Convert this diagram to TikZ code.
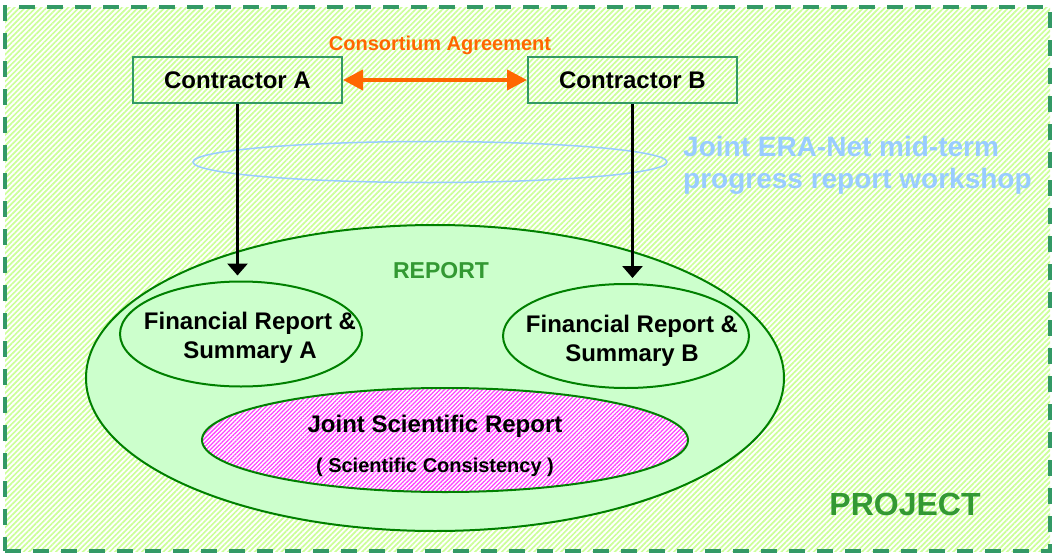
\documentclass[tikz,border=0pt]{standalone}
\usepackage{fontspec}
\setmainfont{Liberation Sans}
\usetikzlibrary{arrows.meta,shapes.geometric,patterns.meta}
\definecolor{framegreen}{HTML}{339966}
\definecolor{hatchgreen}{HTML}{CCFF99}
\definecolor{palegreen}{HTML}{CCFFCC}
\definecolor{darkgreen}{HTML}{008000}
\definecolor{textgreen}{HTML}{339933}
\definecolor{agreeorange}{HTML}{FF6600}
\definecolor{skyblue}{HTML}{99CCFF}
\definecolor{hatchpink}{HTML}{FF44FF}
\tikzset{
  contractor/.style={draw=framegreen,line width=2pt,minimum width=209pt,minimum height=46pt,inner sep=0pt,font=\fontsize{24}{28}\selectfont\bfseries},
  reportell/.style={ellipse,draw=darkgreen,line width=2pt,fill=palegreen,inner sep=0pt},
  lbl/.style={font=\fontsize{24}{29}\selectfont\bfseries,align=center,inner sep=0pt},
  feed/.style={line width=3pt,-{Triangle[length=12pt,width=20pt]},shorten >=5pt}
}
\begin{document}
\begin{tikzpicture}[x=1pt,y=-1pt]
\useasboundingbox (0,0) rectangle (1053,554);
\fill[white] (0,0) rectangle (1053,554);

% project frame
\node[draw=framegreen,line width=4pt,dash pattern=on 16pt off 12pt,
  pattern={Lines[angle=45,distance=3.8pt,line width=1.7pt]},pattern color=hatchgreen,
  minimum width=1045pt,minimum height=544pt,inner sep=0pt] (project) at (527.5,279) {};
\node[font=\fontsize{32}{36}\selectfont\bfseries,text=textgreen,inner sep=0pt,anchor=base] (projlbl) at (905,515) {PROJECT};

% contractors
\node[contractor] (ca) at (237.5,80) {Contractor A};
\node[contractor] (cb) at (632.5,80) {Contractor B};
\draw[agreeorange,line width=4pt,{Triangle[length=20pt,width=20pt]}-{Triangle[length=20pt,width=20pt]}] (ca) -- (cb);
\node[font=\fontsize{20}{24}\selectfont\bfseries,text=agreeorange,inner sep=0pt,anchor=base] (agree) at (440,50) {Consortium Agreement};

% workshop
\node[ellipse,draw=skyblue,line width=1.5pt,minimum width=474pt,minimum height=41pt,inner sep=0pt] (ring) at (430,162) {};
\node[font=\fontsize{28}{32}\selectfont\bfseries,text=skyblue,align=left,inner sep=0pt,anchor=west] (workshop) at (683,165) {Joint ERA-Net mid-term\\progress report workshop};

% report
\node[reportell,minimum width=698pt,minimum height=306pt] (report) at (435,378) {};
\node[font=\fontsize{23}{27}\selectfont\bfseries,text=textgreen,inner sep=0pt,anchor=base] (replbl) at (441,278) {REPORT};

\node[reportell,minimum width=242pt,minimum height=105pt] (finA) at (241,334) {};
\node[lbl] (finAlbl) at (250,338) {Financial Report \&\\Summary A};
\node[reportell,minimum width=246pt,minimum height=104pt] (finB) at (626,336) {};
\node[lbl] (finBlbl) at (632,341) {Financial Report \&\\Summary B};

\node[ellipse,draw=darkgreen,line width=2pt,inner sep=0pt,preaction={fill=white},
  pattern={Lines[angle=45,distance=3pt,line width=1.3pt]},pattern color=hatchpink,
  minimum width=486pt,minimum height=104pt] (jsr) at (445,440) {};
\node[lbl,anchor=base] (jsrlbl) at (435,432) {Joint Scientific Report};
\node[lbl,anchor=base,font=\fontsize{20}{24}\selectfont\bfseries] (conslbl) at (435,472) {( Scientific Consistency )};

\draw[feed] (ca.south) -- (ca.south |- finA.north);
\draw[feed] (cb.south) -- (cb.south |- finB.north);
\end{tikzpicture}
\end{document}
